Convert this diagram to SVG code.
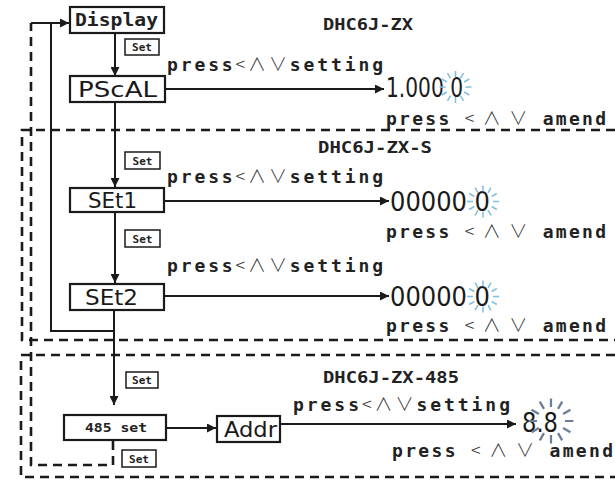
<svg xmlns="http://www.w3.org/2000/svg" xmlns:xlink="http://www.w3.org/1999/xlink" width="615" height="488" viewBox="0 0 615 488">
<style>
.box{fill:#fff;stroke:#1a1a1a;stroke-width:2.2}
.sbox{fill:#fff;stroke:#1a1a1a;stroke-width:1.5}
.ln{fill:none;stroke:#1a1a1a;stroke-width:2}
.dash{fill:none;stroke:#1a1a1a;stroke-width:2.6;stroke-dasharray:9 6}
.t{font-family:"DejaVu Sans Mono","Liberation Mono",monospace;font-weight:bold;fill:#222}
.main{font-size:18px}
.sym{font-family:"Noto Sans CJK SC","DejaVu Sans",sans-serif;font-weight:300;fill:#333}
.ttl{font-size:15px}
.set{font-size:11px;text-anchor:middle}
.seg{font-family:"DejaVu Sans Condensed","DejaVu Sans",sans-serif;font-weight:normal;fill:#1a1a1a}
.lbl{font-size:22px;text-anchor:middle}
.dig{font-size:26px}
.spk{stroke:#7fbfe0;stroke-width:1.5;fill:none}
.spk2{stroke:#6a7f95;stroke-width:1.6;fill:none}
</style>
<defs>
<marker id="ah" viewBox="0 0 10 10" refX="10" refY="5" markerWidth="11" markerHeight="9" markerUnits="userSpaceOnUse" orient="auto"><path d="M0,0 L10,5 L0,10 z" fill="#1a1a1a"/></marker>
<g id="spark">
<path d="M10,0L16,0M8.66,5L13.86,8M5,8.66L8,13.86M0,10L0,16M-5,8.66L-8,13.86M-8.66,5L-13.86,8M-10,0L-16,0M-8.66,-5L-13.86,-8M-5,-8.66L-8,-13.86M0,-10L0,-16M5,-8.66L8,-13.86M8.66,-5L13.86,-8"/>
</g>
</defs>

<g id="regions">
<path class="dash" d="M615,130 H22 V340 H615"/>
<path class="dash" d="M615,355 H21 V477 H615"/>
</g>

<g id="connectors">
<path class="ln" d="M115,33 V76" marker-end="url(#ah)"/>
<path class="ln" d="M115,102 V187" marker-end="url(#ah)"/>
<path class="ln" d="M115,212 V283" marker-end="url(#ah)"/>
<path class="ln" d="M114,310 V405" marker-end="url(#ah)"/>
<path class="ln" d="M115,331 H51 V23 H69" marker-end="url(#ah)"/>
<path class="ln" d="M31,23 H51"/>
<path class="dash" d="M113,441 V465 H31 V23"/>
<path class="ln" d="M165,89 H384" marker-end="url(#ah)"/>
<path class="ln" d="M164,201 H389" marker-end="url(#ah)"/>
<path class="ln" d="M164,296 H389" marker-end="url(#ah)"/>
<path class="ln" d="M166,428 H216" marker-end="url(#ah)"/>
<path class="ln" d="M280,424 H516" marker-end="url(#ah)"/>
</g>

<g id="display">
<rect class="box" x="70" y="7" width="94" height="26"/>
<text class="t main" x="75" y="26" textLength="83" lengthAdjust="spacingAndGlyphs">Display</text>
</g>
<g id="set1">
<rect class="sbox" x="125" y="39" width="34" height="16"/>
<text class="t set" x="142" y="51">Set</text>
</g>
<g id="pscal">
<rect class="box" x="70" y="76" width="95" height="26"/>
<text class="seg lbl" x="117.5" y="97" textLength="79" lengthAdjust="spacingAndGlyphs">PScAL</text>
</g>
<g id="set2">
<rect class="sbox" x="125" y="152" width="35" height="17"/>
<text class="t set" x="142.5" y="164.5">Set</text>
</g>
<g id="set1-node">
<rect class="box" x="70" y="188" width="94" height="24"/>
<text class="seg lbl" x="112.5" y="208" textLength="49" lengthAdjust="spacingAndGlyphs">SEt1</text>
</g>
<g id="set3">
<rect class="sbox" x="125" y="230" width="35" height="17"/>
<text class="t set" x="142.5" y="242.5">Set</text>
</g>
<g id="set2-node">
<rect class="box" x="70" y="284" width="94" height="26"/>
<text class="seg lbl" x="111.5" y="305" textLength="53" lengthAdjust="spacingAndGlyphs">SEt2</text>
</g>
<g id="set4">
<rect class="sbox" x="126" y="372" width="32" height="16"/>
<text class="t set" x="142" y="384">Set</text>
</g>
<g id="set485">
<rect class="box" x="64" y="415" width="102" height="25"/>
<text class="t" x="116" y="432" font-size="12" text-anchor="middle" textLength="62" lengthAdjust="spacingAndGlyphs">485 set</text>
</g>
<g id="set5">
<rect class="sbox" x="122" y="450" width="34" height="17"/>
<text class="t set" x="139" y="462.5">Set</text>
</g>
<g id="addr">
<rect class="box" x="217" y="416" width="63" height="26"/>
<text class="seg lbl" x="250.5" y="437" textLength="53" lengthAdjust="spacingAndGlyphs">Addr</text>
</g>

<g id="texts">
<text class="t ttl" x="323" y="30" textLength="90" lengthAdjust="spacingAndGlyphs">DHC6J-ZX</text>
<text class="t ttl" x="318" y="153" textLength="114" lengthAdjust="spacingAndGlyphs">DHC6J-ZX-S</text>
<text class="t ttl" x="323" y="383" textLength="136" lengthAdjust="spacingAndGlyphs">DHC6J-ZX-485</text>
<text class="t main" x="167" y="71" textLength="216" lengthAdjust="spacing">press<tspan class="sym">&lt;∧∨</tspan>setting</text>
<text class="t main" x="167" y="183" textLength="216" lengthAdjust="spacing">press<tspan class="sym">&lt;∧∨</tspan>setting</text>
<text class="t main" x="167" y="272" textLength="216" lengthAdjust="spacing">press<tspan class="sym">&lt;∧∨</tspan>setting</text>
<text class="t main" x="293" y="411" textLength="217" lengthAdjust="spacing">press<tspan class="sym">&lt;∧∨</tspan>setting</text>
<text class="t main" x="386" y="125" textLength="220" lengthAdjust="spacing">press <tspan class="sym">&lt; ∧ ∨</tspan> amend</text>
<text class="t main" x="386" y="238" textLength="220" lengthAdjust="spacing">press <tspan class="sym">&lt; ∧ ∨</tspan> amend</text>
<text class="t main" x="386" y="332" textLength="220" lengthAdjust="spacing">press <tspan class="sym">&lt; ∧ ∨</tspan> amend</text>
<text class="t main" x="392" y="457" textLength="221" lengthAdjust="spacing">press <tspan class="sym">&lt; ∧ ∨</tspan> amend</text>
</g>

<g id="readouts">
<text class="seg dig" x="386" y="97" textLength="77" lengthAdjust="spacingAndGlyphs">1.000 0</text>
<use xlink:href="#spark" class="spk" transform="translate(455.5,87)"/>
<text class="seg dig" x="390" y="211" textLength="100" lengthAdjust="spacingAndGlyphs">00000 0</text>
<use xlink:href="#spark" class="spk" transform="translate(483,201.5)"/>
<text class="seg dig" x="390" y="306" textLength="100" lengthAdjust="spacingAndGlyphs">00000 0</text>
<use xlink:href="#spark" class="spk" transform="translate(483,296.5)"/>
<text class="seg dig" x="522" y="432" textLength="36" lengthAdjust="spacingAndGlyphs">8.8</text>
<use xlink:href="#spark" class="spk2" transform="translate(551,421) scale(1.4)"/>
</g>
</svg>
